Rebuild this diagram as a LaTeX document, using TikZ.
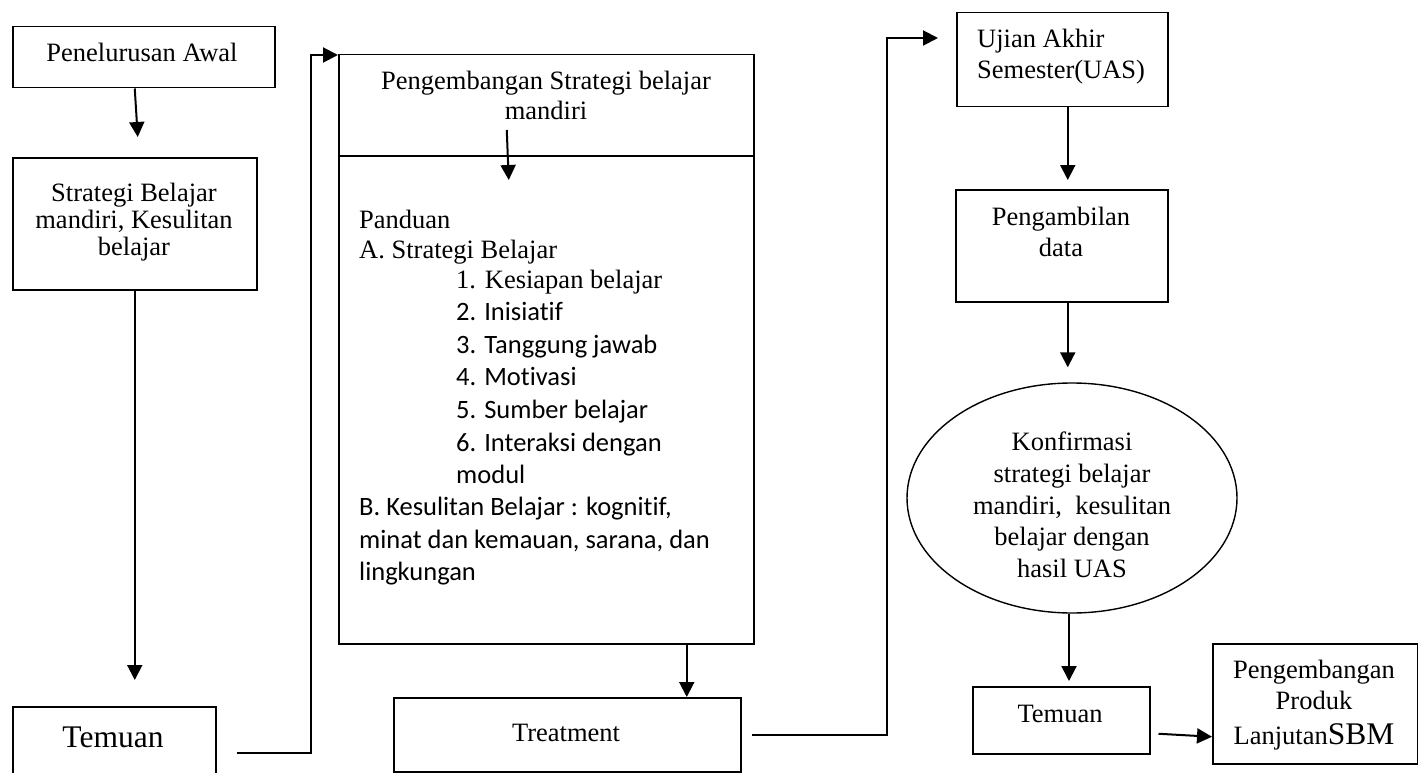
\documentclass[tikz,border=0pt]{standalone}
\usepackage{fontspec}
\setmainfont{Liberation Serif}
\newfontfamily\calfont[Ligatures={NoCommon,NoRare,NoContextual}]{Carlito}
\usetikzlibrary{arrows.meta,shapes.geometric,calc}
\begin{document}
\begin{tikzpicture}[x=1pt,y=-1pt,
  box/.style={draw,line width=1.5pt,rectangle,anchor=north west,inner sep=0pt},
  conn/.style={line width=2pt,-{Triangle[length=15pt,width=15pt]}},
  txt/.style={anchor=base,inner sep=0pt,font=\fontsize{26.5}{30}\selectfont},
  txtl/.style={anchor=base west,inner sep=0pt,font=\fontsize{26.5}{30}\selectfont},
  cal/.style={anchor=base west,inner sep=0pt,font=\calfont\fontsize{26.5}{30}\selectfont},
  bigtxt/.style={anchor=base,inner sep=0pt,font=\fontsize{31.5}{34}\selectfont}]
\clip (0,0) rectangle (1418,773);
\fill[white] (0,0) rectangle (1418,773);

% boxes
\node[box,minimum width=262pt,minimum height=61pt] (pa) at (12,26) {};
\node[box,minimum width=244pt,minimum height=132pt] (sb) at (12,157) {};
\node[box,minimum width=203pt,minimum height=92pt] (tl) at (12,706) {};
\node[box,minimum width=415pt,minimum height=589pt] (big) at (338,54) {};
\node[box,minimum width=347pt,minimum height=74pt] (tr) at (393,697) {};
\node[box,minimum width=211pt,minimum height=94pt] (ua) at (956,12) {};
\node[box,minimum width=212pt,minimum height=112pt] (pd) at (955,189) {};
\node[draw,ellipse,line width=1.4pt,minimum width=330pt,minimum height=230pt,inner sep=0pt] (el) at (1072,498) {};
\node[box,minimum width=177pt,minimum height=67pt] (tm) at (972,686) {};
\node[box,minimum width=205pt,minimum height=120pt] (pp) at (1212,643) {};

\draw[line width=1.5pt] ($(big.north west)+(0,102)$) -- ($(big.north east)+(0,102)$);

% texts
\node[txt] (t1) at (142,62) {Penelurusan Awal};
\node[txt] (t2) at (134,201) {Strategi Belajar};
\node[txt] (t3) at (134,228) {mandiri, Kesulitan};
\node[txt] (t4) at (134,255) {belajar};
\node[bigtxt] (t5) at (113,747) {Temuan};
\node[txt] (h1) at (546,90) {Pengembangan Strategi belajar};
\node[txt] (h2) at (546,120) {mandiri};
\node[txtl] (b1) at (359,228) {Panduan};
\node[txtl] (b2) at (359,258) {A. Strategi Belajar};
\node[txtl] (b3) at (456,288) {1. Kesiapan belajar};
\node[cal] (b4) at (456,320) {2. Inisiatif};
\node[cal] (b5) at (456,353) {3. Tanggung jawab};
\node[cal] (b6) at (456,385) {4. Motivasi};
\node[cal] (b7) at (456,418) {5. Sumber belajar};
\node[cal] (b8) at (456,451) {6. Interaksi dengan};
\node[cal] (b9) at (456,483) {modul};
\node[cal] (b10) at (359,515) {B. Kesulitan Belajar : kognitif,};
\node[cal] (b11) at (359,548) {minat dan kemauan, sarana, dan};
\node[cal] (b12) at (359,580) {lingkungan};
\node[txt] (t6) at (566,741) {Treatment};
\node[txtl] (u1t) at (977,48) {Ujian Akhir};
\node[txtl] (u2t) at (977,79) {Semester(UAS)};
\node[txt] (d1) at (1061,225) {Pengambilan};
\node[txt] (d2) at (1061,256) {data};
\node[txt] (k1) at (1072,450) {Konfirmasi};
\node[txt] (k2) at (1072,482) {strategi belajar};
\node[txt] (k3) at (1072,514) {mandiri,\ \ kesulitan};
\node[txt] (k4) at (1072,545) {belajar dengan};
\node[txt] (k5) at (1072,577) {hasil UAS};
\node[txt] (t7) at (1060,722) {Temuan};
\node[txt] (g1) at (1314,678) {Pengembangan};
\node[txt] (g2) at (1314,709) {Produk};
\node[txt] (g3) at (1314,744) {Lanjutan{\fontsize{31.5}{34}\selectfont SBM}};

% connectors
\draw[conn] ($(pa.south)+(-9,0)$) -- ($(sb.north)+(3,-20)$);
\draw[conn,shorten >=26pt] (sb.south) -- (sb.south |- tl.north);
\coordinate (bin) at ($(big.north west)+(0,1)$);
\draw[conn,shorten <=20pt] (tl.east) -| ($(bin)+(-27,0)$) -- (bin);
\draw[conn] ($(big.north)+(-39.5,76)$) -- ($(big.north)+(-37.5,126)$);
\coordinate (bt) at ($(big.south)+(140.5,0)$);
\draw[conn] (bt) -- (bt |- tr.north);
\coordinate (uin) at ($(ua.north west)+(0,26)$);
\draw[conn,shorten <=10pt,shorten >=18pt] (tr.east) -| ($(uin)+(-69,0)$) -- (uin);
\coordinate (uo) at ($(ua.south)+(5.5,0)$);
\draw[conn,shorten >=9pt] (uo) -- (uo |- pd.north);
\coordinate (po) at ($(pd.south)+(6,0)$);
\draw[conn,shorten >=15pt] (po) -- (po |- el.north);
\coordinate (eo) at ($(el.south)+(-3,0)$);
\draw[conn,shorten >=5pt] (eo) -- (eo |- tm.north);
\draw[conn] ($(tm.east)+(8,13.5)$) -- ($(pp.west)+(0,33)$);
\end{tikzpicture}
\end{document}
